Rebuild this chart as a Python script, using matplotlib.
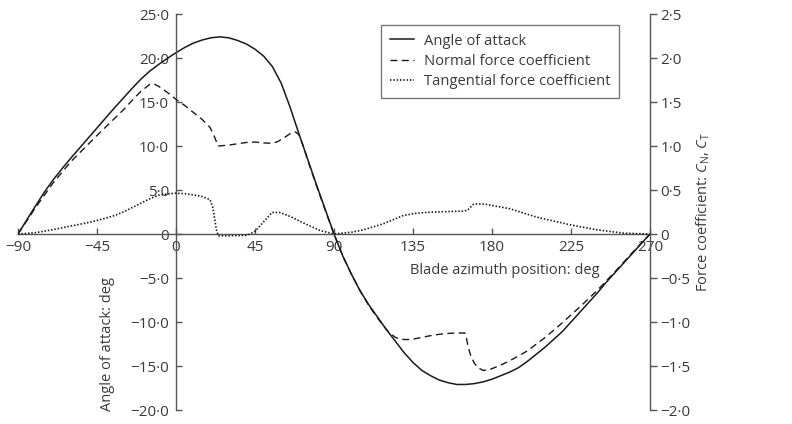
import numpy as np
import matplotlib
matplotlib.use("Agg")
import matplotlib.pyplot as plt

plt.rcParams['font.family'] = ['Open Sans', 'DejaVu Sans']
plt.rcParams['mathtext.fontset'] = 'custom'
plt.rcParams['mathtext.rm'] = 'Open Sans'
plt.rcParams['mathtext.it'] = 'Open Sans:italic'

# Angle of attack (deg) against blade azimuth (deg)
az_aoa = [-90, -85, -80, -75, -70, -65, -60, -55, -50, -45, -40, -35, -30, -25, -20, -15, -10, -5,
          0, 5, 10, 15, 20, 25, 30, 35, 40, 45, 50, 55, 60, 65, 70, 75, 80, 85, 90, 95, 100, 105,
          110, 115, 120, 125, 130, 135, 140, 145, 150, 155, 160, 165, 170, 175, 180, 185, 190, 195,
          200, 205, 210, 215, 220, 225, 230, 235, 240, 245, 250, 255, 260, 265, 270]
aoa = [0, 1.6, 3.2, 4.75, 6.15, 7.4, 8.6, 9.75, 10.9, 12.05, 13.2, 14.35, 15.45, 16.55, 17.6, 18.5,
       19.25, 19.95, 20.6, 21.2, 21.7, 22.05, 22.3, 22.4, 22.3, 22.0, 21.6, 21.0, 20.2, 19.0, 17.1,
       14.4, 11.4, 8.5, 5.6, 2.8, 0, -2.5, -4.6, -6.5, -8.1, -9.5, -10.9, -12.2, -13.5, -14.6,
       -15.5, -16.1, -16.6, -16.9, -17.1, -17.1, -17.0, -16.8, -16.5, -16.1, -15.7, -15.2, -14.5,
       -13.7, -12.9, -12.0, -11.1, -10.0, -8.9, -7.8, -6.7, -5.5, -4.4, -3.3, -2.2, -1.1, 0]

# Normal force coefficient C_N
az_cn = [-90, -80, -70, -60, -45, -30, -24, -20, -15, -13, -10, -5, 0, 5, 10, 15, 19.4, 22, 24,
         30, 35, 40, 45, 50, 55, 58, 62, 65, 68, 70, 72.5, 75, 80, 85, 90, 95, 100, 105, 110, 115,
         120, 122, 125, 128, 131, 135, 140, 145, 150, 155, 160, 164.6, 165.5, 166.5, 168, 170, 172,
         175, 178, 180, 185, 192, 200, 210, 220, 230, 240, 250, 260, 270]
cn = [0, 0.30, 0.58, 0.82, 1.12, 1.41, 1.54, 1.62, 1.70, 1.71, 1.68, 1.61, 1.53, 1.46, 1.38, 1.30,
      1.21, 1.10, 1.00, 1.01, 1.025, 1.04, 1.045, 1.035, 1.03, 1.05, 1.10, 1.14, 1.16, 1.13, 1.00,
      0.84, 0.55, 0.27, 0, -0.25, -0.46, -0.65, -0.82, -0.96, -1.09, -1.13, -1.175, -1.195, -1.20,
      -1.195, -1.175, -1.155, -1.14, -1.13, -1.125, -1.125, -1.19, -1.29, -1.39, -1.47, -1.52,
      -1.55, -1.545, -1.53, -1.49, -1.42, -1.33, -1.18, -1.01, -0.83, -0.64, -0.43, -0.21, 0]

# Tangential force coefficient C_T
az_ct = [-90, -80, -70, -60, -50, -45, -40, -35, -30, -25, -20, -15, -10, -5, 0, 5, 10, 15, 19.4,
         21, 23, 24.1, 30, 40.5, 45, 50, 54.7, 59, 65, 72, 82, 90, 100, 106.7, 118.1, 129.5, 137.1,
         144.7, 155, 163.7, 166, 169.4, 172.2, 177, 190.2, 205.4, 224.4, 239.6, 254.8, 270]
ct = [0, 0.015, 0.05, 0.09, 0.13, 0.154, 0.18, 0.21, 0.25, 0.30, 0.35, 0.40, 0.44, 0.455, 0.463,
      0.458, 0.445, 0.425, 0.39, 0.30, 0.05, -0.02, -0.02, -0.015, 0.03, 0.14, 0.245, 0.245, 0.20,
      0.13, 0.04, 0, 0.02, 0.047, 0.116, 0.21, 0.237, 0.248, 0.255, 0.26, 0.27, 0.336, 0.344,
      0.336, 0.287, 0.192, 0.105, 0.048, 0.01, 0]

x_ticks = [-90, -45, 0, 45, 90, 135, 180, 225, 270]
x_labels = ["\u221290", "\u221245", "0", "45", "90", "135", "180", "225", "270"]
left_ticks = [-20, -15, -10, -5, 0, 5, 10, 15, 20, 25]
left_labels = ["\u221220·0", "\u221215·0", "\u221210·0", "\u22125·0", "0", "5·0", "10·0", "15·0", "20·0", "25·0"]
right_ticks = [-2.0, -1.5, -1.0, -0.5, 0, 0.5, 1.0, 1.5, 2.0, 2.5]
right_labels = ["\u22122·0", "\u22121·5", "\u22121·0", "\u22120·5", "0", "0·5", "1·0", "1·5", "2·0", "2·5"]

grey = '#555555'
txt = '#3a3a3a'
ink = '#1a1a1a'

fig = plt.figure(figsize=(7.92, 4.24), dpi=100)
ax = fig.add_axes([18/792, 14/424, 632/792, 396/424])
ax2 = ax.twinx()

l1, = ax.plot(az_aoa, aoa, color=ink, lw=1.1, label="Angle of attack")
l2, = ax2.plot(az_cn, cn, color=ink, lw=1.0, ls=(0, (5, 3.2)), label="Normal force coefficient")
l3, = ax2.plot(az_ct, ct, color=ink, lw=1.2, ls=(0, (0.9, 1.1)), label="Tangential force coefficient")

ax.set_xlim(-90, 270)
ax.set_ylim(-20, 25)
ax2.set_ylim(-2.0, 2.5)

for s in ['top', 'right']:
    ax.spines[s].set_visible(False)
for s in ['top', 'left', 'bottom']:
    ax2.spines[s].set_visible(False)
ax.spines['left'].set_position(('data', 0))
ax.spines['bottom'].set_position(('data', 0))
for sp in [ax.spines['left'], ax.spines['bottom'], ax2.spines['right']]:
    sp.set_color(grey)
    sp.set_linewidth(1.0)

ax.set_xticks(x_ticks)
ax.set_xticklabels(x_labels)
ax.set_yticks(left_ticks)
ax.set_yticklabels(left_labels)
ax2.set_yticks(right_ticks)
ax2.set_yticklabels(right_labels)

ax.tick_params(axis='x', direction='in', length=4, width=1, pad=4, labelsize=11, color=grey, labelcolor=txt)
ax.tick_params(axis='y', direction='in', length=4.5, width=1, pad=5, labelsize=11, color=grey, labelcolor=txt)
ax2.tick_params(axis='y', direction='out', length=5, width=1, pad=2.5, labelsize=11, color=grey, labelcolor=txt)

fig.text(505/792, 1 - 271/424, "Blade azimuth position: deg", ha='center', va='center', fontsize=10.5, color=txt)
fig.text(107/792, 1 - 344/424, "Angle of attack: deg", ha='center', va='center', rotation=90, fontsize=10.5, color=txt)
fig.text(703/792, 1 - 212/424, "Force coefficient: $C_\\mathrm{N}$, $C_\\mathrm{T}$", ha='center', va='center',
         rotation=90, fontsize=10.5, color=txt)

leg = ax2.legend(handles=[l1, l2, l3], loc='upper right', bbox_to_anchor=(601/632, 385/396),
                 borderaxespad=0, fancybox=False, frameon=True, fontsize=10.6, labelspacing=0.36,
                 handlelength=1.6, handletextpad=0.7, borderpad=0.58)
leg.get_frame().set_edgecolor(grey)
leg.get_frame().set_linewidth(1.0)
for t in leg.get_texts():
    t.set_color(txt)

fig.savefig("out.png", dpi=100)
